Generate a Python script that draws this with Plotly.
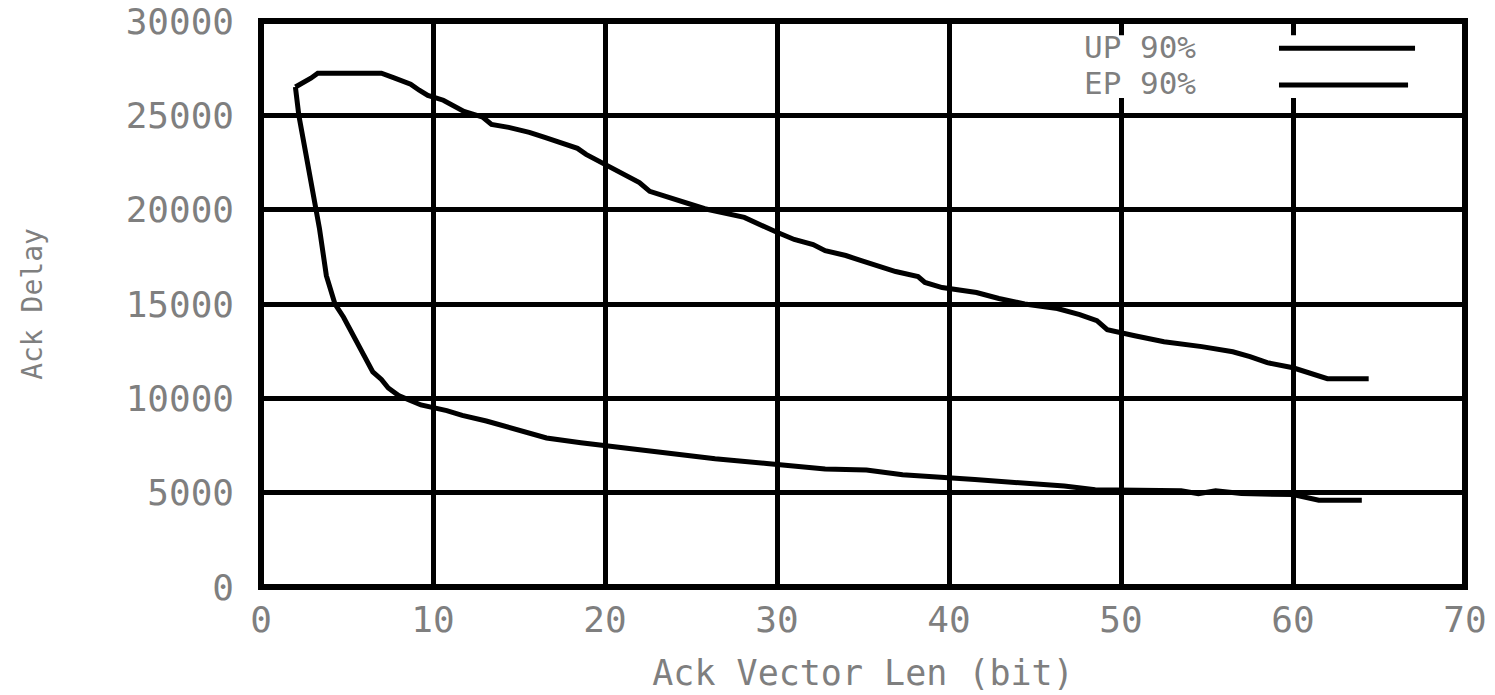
import plotly.graph_objects as go

# ---- data ----
up_x = [2.0, 2.4, 2.9, 3.3, 5.2, 7.0, 7.7, 8.7, 9.2, 9.7, 10.6, 11.8, 12.9, 13.4, 14.4,
        15.6, 16.5, 17.5, 18.4, 18.9, 19.7, 20.6, 21.3, 22.0, 22.6, 23.5, 24.5, 25.8,
        28.1, 28.8, 29.9, 31.0, 32.1, 32.8, 34.0, 34.9, 36.0, 36.9, 38.2, 38.6, 39.6,
        41.6, 42.9, 44.4, 46.3, 47.6, 48.6, 49.2, 50.8, 52.5, 54.7, 56.5, 57.5, 58.5,
        60.0, 60.9, 62.0, 64.4]
up_y = [26500, 26700, 26970, 27230, 27230, 27230, 27000, 26650, 26330, 26060, 25800, 25210,
        24900, 24520, 24360, 24100, 23830, 23510, 23250, 22930, 22560, 22130, 21820, 21440,
        20970, 20700, 20380, 20050, 19590, 19270, 18840, 18420, 18150, 17830, 17570, 17300,
        16990, 16720, 16450, 16140, 15870, 15610, 15290, 15000, 14760, 14440, 14120, 13640,
        13320, 13000, 12740, 12470, 12210, 11890, 11620, 11360, 11040, 11040]

ep_x = [2.0, 2.2, 2.6, 3.0, 3.4, 3.8, 4.3, 4.8, 5.2, 5.6, 6.0, 6.5, 7.0, 7.4, 8.0, 9.3,
        10.8, 11.7, 13.1, 14.4, 15.1, 16.6, 18.6, 21.3, 24.1, 26.4, 29.4, 32.8, 35.2, 37.3,
        41.5, 46.7, 48.5, 53.5, 54.5, 55.5, 57.0, 60.0, 61.5, 64.0]
ep_y = [26500, 25000, 23000, 21000, 19000, 16500, 15000, 14300, 13600, 12900, 12150, 11400,
        11000, 10550, 10150, 9650, 9350, 9100, 8800, 8450, 8250, 7900, 7650, 7350, 7050,
        6800, 6550, 6250, 6200, 5950, 5700, 5350, 5150, 5100, 4950, 5100, 4950, 4900,
        4600, 4600]

x_ticks = [0, 10, 20, 30, 40, 50, 60, 70]
x_tick_text = ["0", "10", "20", "30", "40", "50", "60", "70"]
y_ticks = [0, 5000, 10000, 15000, 20000, 25000, 30000]
y_tick_text = ["0", "5000", "10000", "15000", "20000", "25000", "30000"]

series_names = ["UP 90%", "EP 90%"]

FONT = "DejaVu Sans Mono"
GRAY = "#7f7f7f"

fig = go.Figure()
fig.add_trace(go.Scatter(x=up_x, y=up_y, mode="lines", name=series_names[0],
                         line=dict(color="black", width=5)))
fig.add_trace(go.Scatter(x=ep_x, y=ep_y, mode="lines", name=series_names[1],
                         line=dict(color="black", width=5)))

fig.update_layout(
    template="none",
    width=1495, height=695,
    margin=dict(l=261, r=30, t=21, b=108, autoexpand=False),
    paper_bgcolor="white", plot_bgcolor="white",
    showlegend=False,
    font=dict(family=FONT, color=GRAY),
    xaxis=dict(range=[0, 70], tickvals=x_ticks, ticktext=x_tick_text, automargin=False,
               showgrid=True, gridcolor="black", gridwidth=5, zeroline=False,
               showline=False, ticks="", ticklabelstandoff=8,
               tickfont=dict(family=FONT, size=36, color=GRAY),
               title=dict(text="Ack Vector Len (bit)", standoff=21,
                          font=dict(family=FONT, size=35, color=GRAY))),
    yaxis=dict(range=[0, 30000], tickvals=y_ticks, ticktext=y_tick_text, automargin=False,
               showgrid=True, gridcolor="black", gridwidth=5, zeroline=False,
               showline=False, ticks="", ticklabelstandoff=26,
               tickfont=dict(family=FONT, size=36, color=GRAY),
               title=dict(text="Ack Delay", standoff=74,
                          font=dict(family=FONT, size=28, color=GRAY))),
)

# legend box (gnuplot style: text left, line sample right)
fig.add_shape(type="rect", xref="paper", yref="paper", x0=0.672, x1=0.971, y0=0.864, y1=0.975,
              fillcolor="white", line=dict(width=0), layer="above")
fig.add_shape(type="line", xref="paper", yref="paper", x0=0.8455, x1=0.9585, y0=0.952, y1=0.952,
              line=dict(color="black", width=5), layer="above")
fig.add_shape(type="line", xref="paper", yref="paper", x0=0.8455, x1=0.9527, y0=0.887, y1=0.887,
              line=dict(color="black", width=5), layer="above")
fig.add_annotation(xref="paper", yref="paper", x=0.682, y=0.954, xanchor="left", yanchor="middle",
                   text=series_names[0], showarrow=False,
                   font=dict(family=FONT, size=31, color=GRAY))
fig.add_annotation(xref="paper", yref="paper", x=0.682, y=0.891, xanchor="left", yanchor="middle",
                   text=series_names[1], showarrow=False,
                   font=dict(family=FONT, size=31, color=GRAY))
# plot frame
fig.add_shape(type="rect", xref="paper", yref="paper", x0=0, x1=1, y0=0, y1=1,
              line=dict(color="black", width=6), layer="above")

fig.write_html("out.html", config={"displayModeBar": False},
               post_script="document.body.style.margin='0';document.body.style.overflow='hidden';")
